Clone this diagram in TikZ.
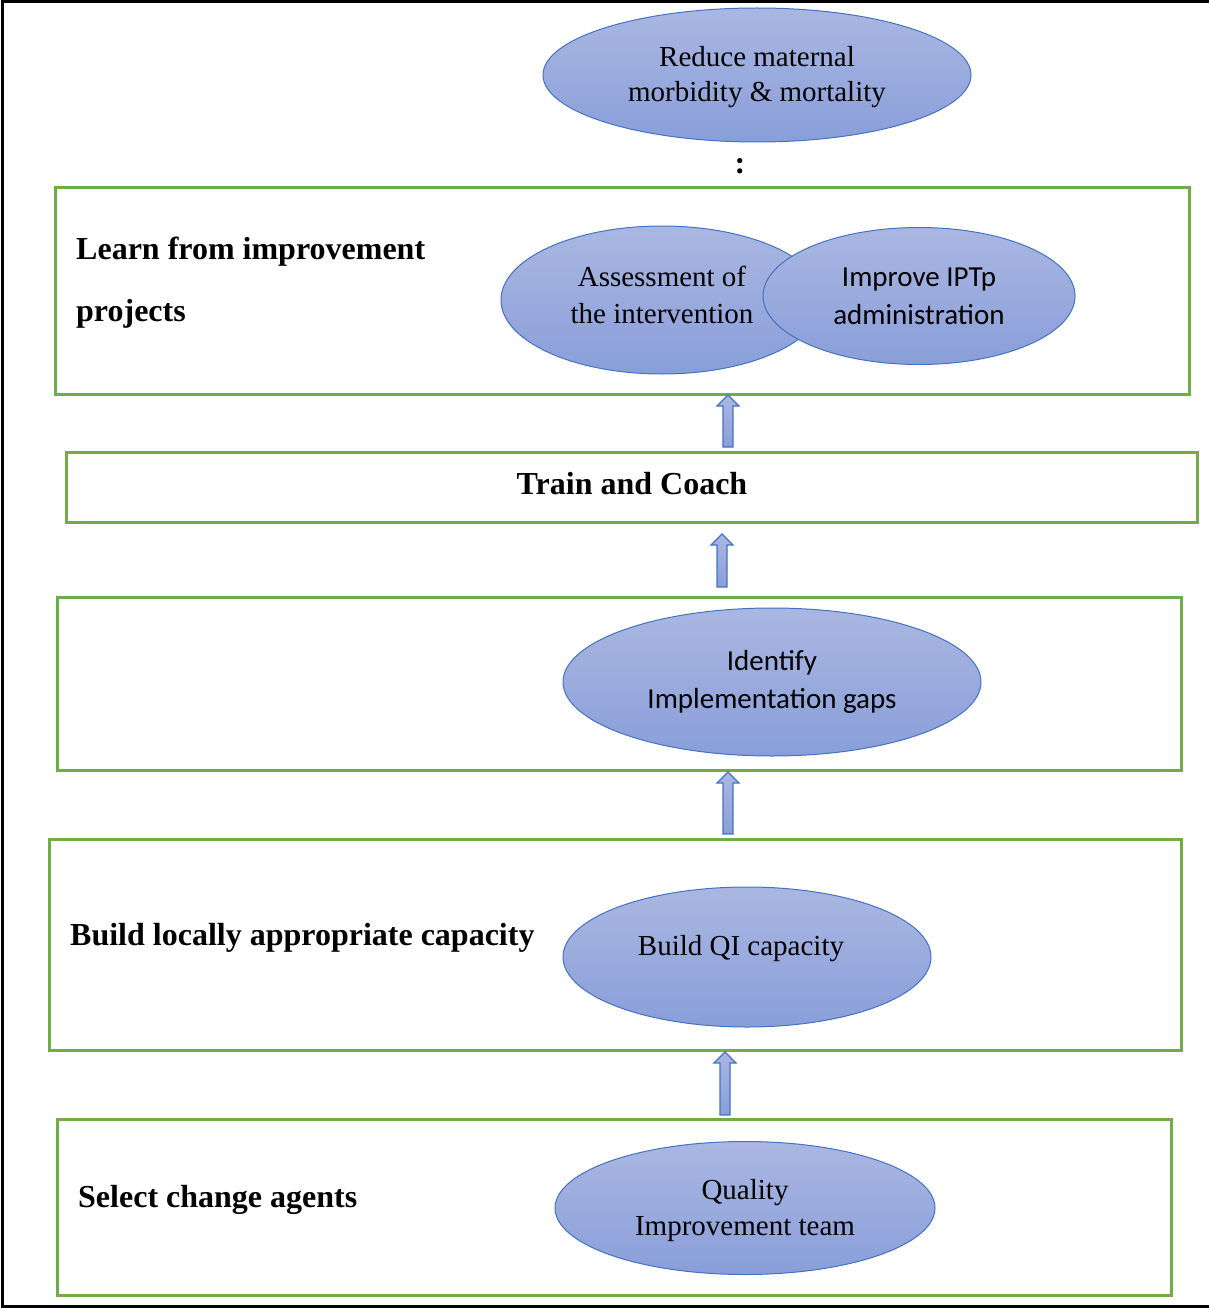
\documentclass[tikz,border=0pt]{standalone}
\usepackage{fontspec}
\setmainfont{Liberation Serif}
\newfontfamily\calibri{Carlito}
\usepackage{xcolor}
\usetikzlibrary{shapes.geometric, calc}

\definecolor{stagegreen}{RGB}{112,173,71}
\definecolor{ovaltop}{RGB}{170,183,226}
\definecolor{ovalbot}{RGB}{137,158,217}
\definecolor{ovalline}{RGB}{68,114,196}

% block arrow pointing up: #1 tail, #2 tip
\newcommand{\blockup}[2]{%
  \draw[upshaft] ($(#1)+(-5,0)$) -- ($(#2)+(-5,11)$) -- ($(#2)+(-11,11)$)
    -- (#2) -- ($(#2)+(11,11)$) -- ($(#2)+(5,11)$) -- ($(#1)+(5,0)$) -- cycle;}

\begin{document}
\begin{tikzpicture}[
    x=1pt, y=-1pt,
    stage/.style={draw=stagegreen, line width=3pt, inner sep=0pt},
    oval/.style={ellipse, draw=ovalline, line width=1pt, top color=ovaltop,
                 bottom color=ovalbot, align=center, inner sep=0pt,
                 font=\fontsize{29}{36}\selectfont},
    sansoval/.style={oval, font=\calibri\fontsize{29}{38}\selectfont},
    ovaltext/.style={inner sep=0pt, align=center, font=\fontsize{29}{37}\selectfont},
    heading/.style={anchor=west, inner sep=0pt, align=left,
                    font=\bfseries\fontsize{32}{62}\selectfont},
    upshaft/.style={draw=ovalline, line width=1.3pt, top color=ovaltop,
                    bottom color=ovalbot}
  ]
  \useasboundingbox (0,0) rectangle (1209,1308);
  \draw[line width=3pt] (1209,1.5) -- (2,1.5) -- (2,1306) -- (1209,1306);

  % goal
  \node[oval, minimum width=428pt, minimum height=134pt] (goal) at (757,75) {};
  \node[ovaltext, font=\fontsize{29}{35}\selectfont] (goaltext) at (757,77)
    {Reduce maternal\\morbidity \& mortality};
  \node[font=\bfseries\fontsize{32}{36}\selectfont, inner sep=0pt] (dots) at (740,166) {:};

  % stages
  \node[stage, minimum width=1134pt, minimum height=206pt] (learn) at (622,291) {};
  \node[stage, minimum width=1131pt, minimum height=70pt] (train) at (631.5,487) {};
  \node[inner sep=0pt, font=\bfseries\fontsize{32}{36}\selectfont] (traintext) at (632,484)
    {Train and Coach};
  \node[stage, minimum width=1124pt, minimum height=173pt] (gaps) at (619,683.5) {};
  \node[stage, minimum width=1132pt, minimum height=211pt] (capacity) at (615,944.5) {};
  \node[stage, minimum width=1114pt, minimum height=176pt] (agents) at (614,1207) {};

  \node[heading] (learnhead) at (76,283) {Learn from improvement\\projects};
  \node[heading] (capacityhead) at (70,938) {Build locally appropriate capacity};
  \node[heading] (agentshead) at (78,1200) {Select change agents};

  % ovals in the stages
  \node[oval, minimum width=322pt, minimum height=148pt] (assess) at (662,300) {};
  \node[ovaltext] (assesstext) at (662,295) {Assessment of\\the intervention};
  \node[sansoval, minimum width=312pt, minimum height=137pt] (iptp) at (919,296)
    {Improve IPTp\\administration};
  \node[sansoval, minimum width=418pt, minimum height=148pt] (identify) at (772,682)
    {Identify\\Implementation gaps};
  \node[oval, minimum width=368pt, minimum height=140pt] (qicap) at (747,957) {};
  \node[ovaltext] (qicaptext) at (741,949) {Build QI capacity};
  \node[oval, minimum width=380pt, minimum height=133pt] (qiteam) at (745,1208) {};
  \node[ovaltext, font=\fontsize{29}{36}\selectfont] (qiteamtext) at (745,1211)
    {Quality\\Improvement team};

  % arrows between stages
  \coordinate (a1s) at (728,447);  \coordinate (a1e) at (728,395);
  \coordinate (a2s) at (722,587);  \coordinate (a2e) at (722,534);
  \coordinate (a3s) at (728,834);  \coordinate (a3e) at (728,772);
  \coordinate (a4s) at (725,1115); \coordinate (a4e) at (725,1052);
  \blockup{a1s}{a1e}
  \blockup{a2s}{a2e}
  \blockup{a3s}{a3e}
  \blockup{a4s}{a4e}
\end{tikzpicture}
\end{document}
